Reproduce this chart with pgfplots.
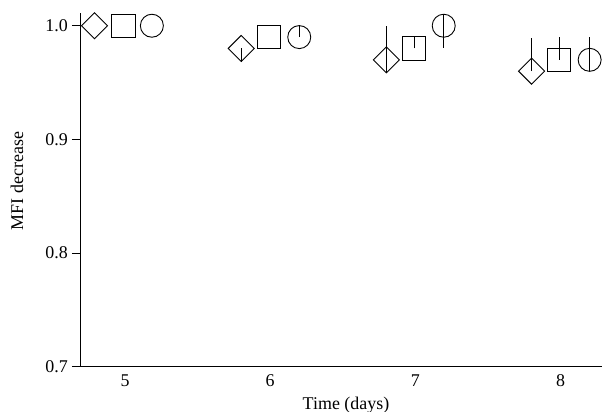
\documentclass[border=0pt]{standalone}
\usepackage{pgfplots}
\pgfplotsset{compat=1.18}
\usepackage{fontspec}
\setmainfont{Liberation Serif}
\begin{document}
\begin{tikzpicture}
\begin{axis}[
  scale only axis,
  width=522bp, height=353.7bp,
  xmin=4.69, xmax=8.285,
  ymin=0.7, ymax=1.0112,
  axis lines*=left,
  axis line style={line width=0.9bp},
  clip=false,
  xtick={5,6,7,8},
  ytick={0.7,0.8,0.9,1.0},
  tick align=outside,
  major tick length=8bp,
  tick style={line width=0.9bp, black},
  xtick style={draw=none},
  yticklabel={\pgfmathprintnumber[fixed,fixed zerofill,precision=1,assume math mode=true]{\tick}},
  xticklabel={\pgfmathprintnumber[assume math mode=true]{\tick}},
  every tick label/.append style={font=\fontsize{18}{21}\selectfont},
  yticklabel style={inner sep=0pt, anchor=east, xshift=-4bp},
  xticklabel style={inner sep=0pt, anchor=north},
  xlabel={Time (days)},
  ylabel={MFI decrease},
  label style={font=\fontsize{18}{21}\selectfont},
  xlabel style={at={(axis description cs:0.5,0)}, anchor=base, yshift=-42.6bp, xshift=5bp},
  ylabel style={at={(axis description cs:0,0.525)}, anchor=center, yshift=63bp},
]
\coordinate (ll) at (rel axis cs:0,0);
\coordinate (ur) at (rel axis cs:1,1);
% diamonds
\addplot[only marks, mark=square, mark size=9.2bp, mark options={rotate=45, line width=0.9bp},
  error bars/.cd, y dir=both, y explicit, error mark=none, error bar style={line width=0.9bp}]
  coordinates {
  (4.79,1.0) +- (0,0)
  (5.8,0.98) += (0,0) -= (0,0.012)
  (6.8,0.97) += (0,0.03) -= (0,0.011)
  (7.8,0.96) += (0,0.029) -= (0,0)
  };
% squares
\addplot[only marks, mark=square, mark size=11.7bp, mark options={line width=0.9bp},
  error bars/.cd, y dir=both, y explicit, error mark=none, error bar style={line width=0.9bp}]
  coordinates {
  (4.99,1.0) +- (0,0)
  (5.99,0.99) +- (0,0)
  (6.99,0.98) += (0,0.01) -= (0,0)
  (7.99,0.97) += (0,0.02) -= (0,0)
  };
% circles
\addplot[only marks, mark=o, mark size=11.5bp, mark options={line width=0.9bp},
  error bars/.cd, y dir=both, y explicit, error mark=none, error bar style={line width=0.9bp}]
  coordinates {
  (5.185,1.0) +- (0,0)
  (6.2,0.99) += (0,0.011) -= (0,0)
  (7.195,1.0) += (0,0.0105) -= (0,0.02)
  (8.2,0.97) += (0,0.02) -= (0,0.01)
  };
\end{axis}
\pgfresetboundingbox
\path[use as bounding box] ([xshift=-80bp,yshift=-45.3bp]ll) rectangle ([yshift=13bp]ur);
\end{tikzpicture}
\end{document}
